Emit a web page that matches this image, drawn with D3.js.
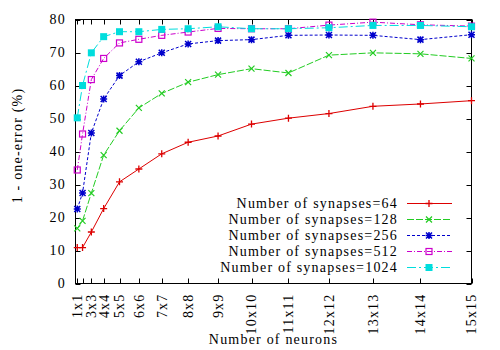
<!DOCTYPE html>
<html><head><meta charset="utf-8">
<script src="https://cdn.jsdelivr.net/npm/d3@7"></script>
<style>body{margin:0;background:#fff}</style>
</head><body><svg id="c" width="500" height="350"></svg>
<script>
const neurons = [1,4,9,16,25,36,49,64,81,100,121,144,169,196,225];
const tickLabels = ["1x1","","3x3","4x4","5x5","6x6","7x7","8x8","9x9","10x10","11x11","12x12","13x13","14x14","15x15"];
const seriesNames = ["Number of synapses=64","Number of synapses=128","Number of synapses=256","Number of synapses=512","Number of synapses=1024"];
const syn64   = [10.9,10.9,15.6,22.7,30.8,34.7,39.3,42.8,44.7,48.3,50.1,51.5,53.7,54.4,55.4];
const syn128  = [16.7,19.0,27.4,38.9,46.3,53.2,57.6,61.0,63.3,65.1,63.8,69.2,69.9,69.6,68.2];
const syn256  = [22.6,27.4,45.6,55.9,63.0,67.2,69.9,72.6,73.6,73.9,75.2,75.3,75.2,73.9,75.4];
const syn512  = [34.4,45.3,61.8,68.2,72.9,74.0,75.2,76.2,77.3,77.2,77.2,78.3,79.2,78.4,78.0];
const syn1024 = [50.2,60.0,69.9,74.8,76.3,76.3,77.0,77.2,77.8,77.2,77.2,77.5,78.2,78.2,77.8];
const yTicks = [0,10,20,30,40,50,60,70,80];

const series = [syn64, syn128, syn256, syn512, syn1024];
const colors = ["#dd0000","#22cc22","#0000cc","#cc00cc","#00dddd"];
const dashes = [null,"7,2","3,2","5,2,1,2","9,3,2,3"];
const markers = ["plus","cross","star","square","fsquare"];

const svg = d3.select("#c");
const FONT = "'Liberation Serif','Times New Roman','DejaVu Serif',serif";
function txt(sel){ return sel.attr("font-family",FONT).attr("font-size",14).attr("letter-spacing","1.2px").attr("fill","#000"); }
const L=75.5, R=471.5, T=19.5, B=283.5;
const x = d3.scaleLinear().domain([0,225]).range([L,R]);
const y = d3.scaleLinear().domain([0,80]).range([B,T]);

svg.append("rect").attr("x",L).attr("y",T).attr("width",R-L).attr("height",B-T)
  .attr("fill","none").attr("stroke","#000").attr("stroke-width",1);

const tk=5;
neurons.forEach((n,i)=>{
  const px=Math.round(x(n))+0.5;
  svg.append("line").attr("x1",px).attr("x2",px).attr("y1",B).attr("y2",B-tk).attr("stroke","#000");
  svg.append("line").attr("x1",px).attr("x2",px).attr("y1",T).attr("y2",T+tk).attr("stroke","#000");
  if(tickLabels[i]) txt(svg.append("text")).attr("transform",`translate(${x(n)},${B+10}) rotate(-90)`)
     .attr("text-anchor","end").attr("dy","0.35em").text(tickLabels[i]);
});
yTicks.forEach(v=>{
  const py=Math.round(y(v))+0.5;
  svg.append("line").attr("x1",L).attr("x2",L+tk).attr("y1",py).attr("y2",py).attr("stroke","#000");
  svg.append("line").attr("x1",R).attr("x2",R-tk).attr("y1",py).attr("y2",py).attr("stroke","#000");
  txt(svg.append("text")).attr("x",66).attr("y",y(v)).attr("dy","0.35em").attr("text-anchor","end").text(v);
});

txt(svg.append("text")).attr("x",(L+R)/2).attr("y",344).attr("text-anchor","middle").text("Number of neurons");
txt(svg.append("text")).attr("transform",`translate(17,${(T+B)/2-6}) rotate(-90)`).attr("text-anchor","middle")
  .attr("dy","0.35em").text("1 - one-error (%)");

function marker(g,type,cx,cy,col){
  const s=3.5;
  if(type==="plus"){
    g.append("path").attr("d",`M${cx-s},${cy}H${cx+s}M${cx},${cy-s}V${cy+s}`).attr("stroke",col).attr("stroke-width",1.3);
  } else if(type==="cross"){
    g.append("path").attr("d",`M${cx-3},${cy-3}L${cx+3},${cy+3}M${cx-3},${cy+3}L${cx+3},${cy-3}`).attr("stroke",col).attr("stroke-width",1.2);
  } else if(type==="star"){
    g.append("path").attr("d",`M${cx-s},${cy}H${cx+s}M${cx},${cy-s}V${cy+s}M${cx-3},${cy-3}L${cx+3},${cy+3}M${cx-3},${cy+3}L${cx+3},${cy-3}`).attr("stroke",col).attr("stroke-width",1.5);
  } else if(type==="square"){
    g.append("rect").attr("x",cx-3).attr("y",cy-3).attr("width",6).attr("height",6).attr("fill","none").attr("stroke",col).attr("stroke-width",1.2);
  } else {
    g.append("rect").attr("x",cx-3.5).attr("y",cy-3.5).attr("width",7).attr("height",7).attr("fill",col);
  }
}

const line = d3.line().x((d,i)=>x(neurons[i])).y(d=>y(d));
series.forEach((s,k)=>{
  const g=svg.append("g");
  g.append("path").attr("d",line(s)).attr("fill","none").attr("stroke",colors[k]).attr("stroke-width",1)
    .attr("stroke-dasharray",dashes[k]);
  s.forEach((v,i)=>marker(g,markers[k],x(neurons[i]),y(v),colors[k]));
  const ly=203+k*16;
  txt(svg.append("text")).attr("x",398).attr("y",ly).attr("dy","0.35em").attr("text-anchor","end").text(seriesNames[k]);
  g.append("line").attr("x1",407).attr("x2",452).attr("y1",ly+0.5).attr("y2",ly+0.5).attr("stroke",colors[k]).attr("stroke-dasharray",dashes[k]);
  marker(g,markers[k],429,ly+0.5,colors[k]);
});
</script></body></html>
